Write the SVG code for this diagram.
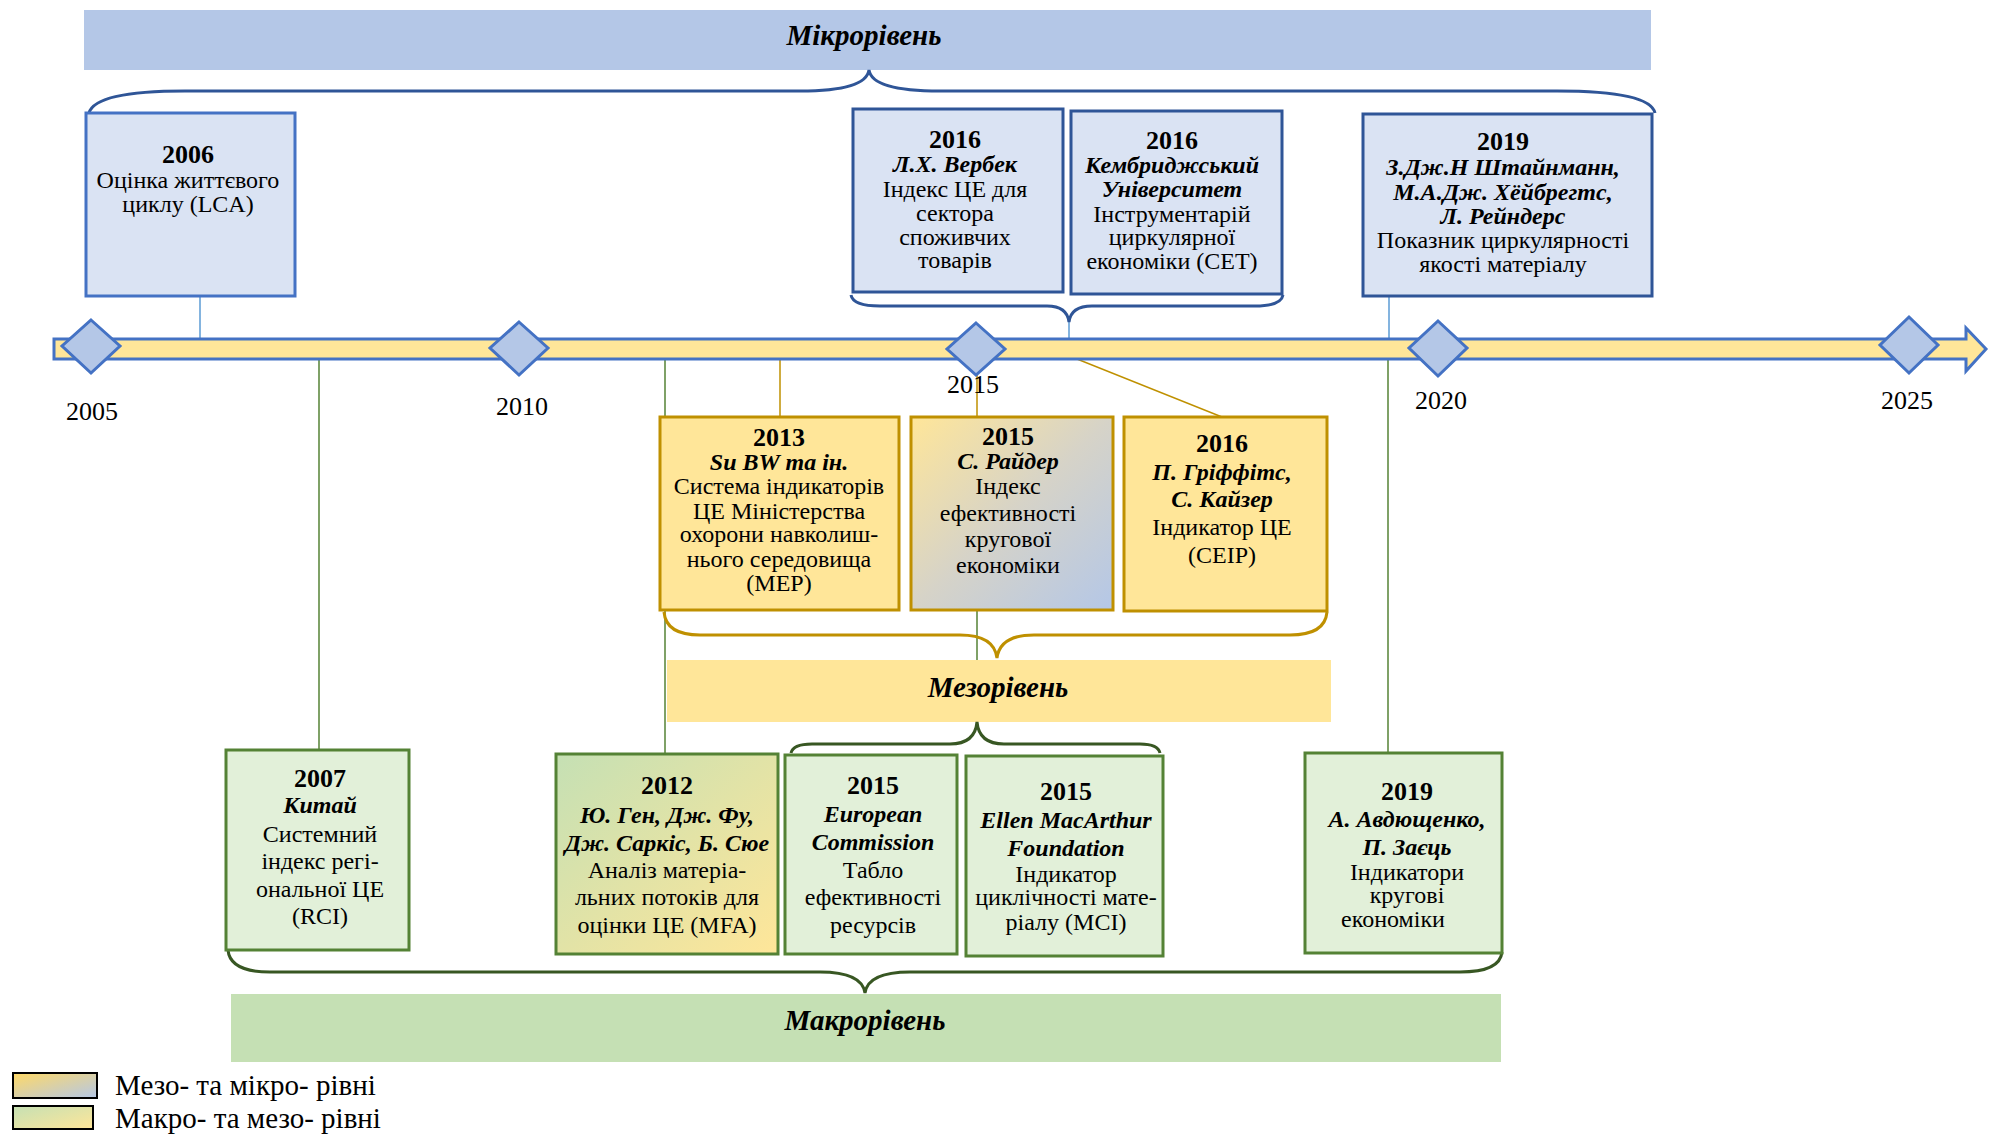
<svg xmlns="http://www.w3.org/2000/svg" width="1993" height="1135" viewBox="0 0 1993 1135">
  <defs>
    <linearGradient id="gMesoMicro" x1="0" y1="0" x2="1" y2="1">
      <stop offset="0" stop-color="#FFE699"/>
      <stop offset="0.5" stop-color="#D6D3C8"/>
      <stop offset="1" stop-color="#B4C7E7"/>
    </linearGradient>
    <linearGradient id="gMacroMeso" x1="0" y1="0" x2="1" y2="1">
      <stop offset="0" stop-color="#C5E0B4"/>
      <stop offset="1" stop-color="#FFE699"/>
    </linearGradient>
    <linearGradient id="gLegA" x1="0" y1="0" x2="1" y2="1">
      <stop offset="0" stop-color="#FFD966"/>
      <stop offset="1" stop-color="#B4C7E7"/>
    </linearGradient>
    <linearGradient id="gLegB" x1="0" y1="0" x2="1" y2="1">
      <stop offset="0" stop-color="#C5E0B4"/>
      <stop offset="1" stop-color="#FFE699"/>
    </linearGradient>
    <style>
      text { font-family: "Liberation Serif", "Times New Roman", serif; fill: #000; }
      .c { text-anchor: middle; font-size: 24px; }
      .yr { font-weight: bold; font-size: 26px; }
      .nm { font-weight: bold; font-style: italic; }
      .lvl { text-anchor: middle; font-weight: bold; font-style: italic; font-size: 29px; }
      .tick { text-anchor: middle; font-size: 26px; }
      .leg { font-size: 29px; }
      .bxB { fill: #DAE3F3; stroke: #2F5597; stroke-width: 3; }
      .bxB2 { fill: #DAE3F3; stroke: #4472C4; stroke-width: 3; }
      .bxY { fill: #FFE699; stroke: #BF9000; stroke-width: 3; }
      .bxG { fill: #E2F0D9; stroke: #548235; stroke-width: 3; }
      .brB { fill: none; stroke: #2F5597; stroke-width: 3; }
      .brY { fill: none; stroke: #BF9000; stroke-width: 3; }
      .brG { fill: none; stroke: #385723; stroke-width: 3; }
      .lnB { stroke: #5B9BD5; stroke-width: 1.5; }
      .lnY { stroke: #BF9000; stroke-width: 1.5; }
      .lnG { stroke: #548235; stroke-width: 1.5; }
      .dia { fill: #B4C7E7; stroke: #4472C4; stroke-width: 3; }
    </style>
  </defs>

  <!-- level bands -->
  <g id="band-micro">
    <rect x="84" y="10" width="1567" height="60" fill="#B4C7E7"/>
    <text class="lvl" x="864" y="45">Мікрорівень</text>
  </g>
  <g id="band-meso">
    <rect x="667" y="660" width="664" height="62" fill="#FFE699"/>
    <text class="lvl" x="998" y="697">Мезорівень</text>
  </g>
  <g id="band-macro">
    <rect x="231" y="994" width="1270" height="68" fill="#C5E0B4"/>
    <text class="lvl" x="865" y="1030">Макрорівень</text>
  </g>

  <!-- connectors and grouping braces -->
  <g id="connectors">
    <line class="lnB" x1="200" y1="296" x2="200" y2="339"/>
    <line class="lnB" x1="1069" y1="322" x2="1069" y2="339"/>
    <line class="lnB" x1="1389" y1="296" x2="1389" y2="339"/>
    <line class="lnG" x1="319" y1="359" x2="319" y2="750"/>
    <line class="lnG" x1="665" y1="359" x2="665" y2="754"/>
    <line class="lnY" x1="780" y1="359" x2="780" y2="417"/>
    <line class="lnY" x1="977" y1="359" x2="977" y2="417"/>
    <line class="lnG" x1="977" y1="610" x2="977" y2="660"/>
    <line class="lnY" x1="1077" y1="359" x2="1222" y2="417"/>
    <line class="lnG" x1="1388" y1="359" x2="1388" y2="753"/>

    <path class="brB" d="M89,113 Q95,91 185,91 L800,91 Q866,91 869,70 Q872,91 940,91 L1557,91 Q1650,91 1655,113"/>
    <path class="brB" d="M851,295 Q853,306 880,306 L1047,306 Q1067,306 1069,322 Q1071,306 1092,306 L1255,306 Q1281,306 1283,295"/>
    <path class="brY" d="M664,612 Q666,635 700,635 L960,635 Q994,635 997,658 Q1000,635 1034,635 L1290,635 Q1325,635 1327,612"/>
    <path class="brG" d="M791,753 Q793,744 812,744 L950,744 Q975,744 977,722 Q979,744 1004,744 L1140,744 Q1158,744 1160,753"/>
    <path class="brG" d="M228,950 Q230,972 270,972 L820,972 Q862,972 865,993 Q868,972 910,972 L1460,972 Q1500,972 1502,952"/>
  </g>

  <!-- timeline axis -->
  <g id="timeline">
    <path d="M54,339 L1966,339 L1966,328 L1986,349 L1966,371 L1966,359 L54,359 Z" fill="#FFE699" stroke="#4472C4" stroke-width="3"/>
    <polygon class="dia" points="91,320 120,346 91,373 62,346"/>
    <polygon class="dia" points="519,322 548,348 519,375 490,348"/>
    <polygon class="dia" points="976,323 1005,349 976,375 947,349"/>
    <polygon class="dia" points="1438,321 1467,348 1438,376 1409,348"/>
    <polygon class="dia" points="1909,317 1938,345 1909,373 1880,345"/>
    <text class="tick" x="92" y="420">2005</text>
    <text class="tick" x="522" y="415">2010</text>
    <text class="tick" x="973" y="393">2015</text>
    <text class="tick" x="1441" y="409">2020</text>
    <text class="tick" x="1907" y="409">2025</text>
  </g>

  <!-- micro level -->
  <g id="n2006">
    <rect class="bxB2" x="86" y="113" width="209" height="183"/>
    <text class="c yr" x="188" y="163">2006</text>
    <text class="c" x="188" y="188">Оцінка життєвого</text>
    <text class="c" x="188" y="212">циклу (LCA)</text>
  </g>
  <g id="n2016-verbek">
    <rect class="bxB" x="853" y="109" width="210" height="183"/>
    <text class="c yr" x="955" y="148">2016</text>
    <text class="c nm" x="955" y="172">Л.Х. Вербек</text>
    <text class="c" x="955" y="197">Індекс ЦЕ для</text>
    <text class="c" x="955" y="221">сектора</text>
    <text class="c" x="955" y="245">споживчих</text>
    <text class="c" x="955" y="268">товарів</text>
  </g>
  <g id="n2016-cambridge">
    <rect class="bxB" x="1071" y="111" width="211" height="183"/>
    <text class="c yr" x="1172" y="149">2016</text>
    <text class="c nm" x="1172" y="173">Кембриджський</text>
    <text class="c nm" x="1172" y="197">Університет</text>
    <text class="c" x="1172" y="222">Інструментарій</text>
    <text class="c" x="1172" y="245">циркулярної</text>
    <text class="c" x="1172" y="269">економіки (CET)</text>
  </g>
  <g id="n2019-steinmann">
    <rect class="bxB" x="1363" y="114" width="289" height="182"/>
    <text class="c yr" x="1503" y="150">2019</text>
    <text class="c nm" x="1503" y="175">З.Дж.Н Штайнманн,</text>
    <text class="c nm" x="1503" y="200">М.А.Дж. Хёйбрегтс,</text>
    <text class="c nm" x="1503" y="224">Л. Рейндерс</text>
    <text class="c" x="1503" y="248">Показник циркулярності</text>
    <text class="c" x="1503" y="272">якості матеріалу</text>
  </g>

  <!-- meso level -->
  <g id="n2013">
    <rect class="bxY" x="660" y="417" width="239" height="193"/>
    <text class="c yr" x="779" y="446">2013</text>
    <text class="c nm" x="779" y="470">Su BW та ін.</text>
    <text class="c" x="779" y="494">Система індикаторів</text>
    <text class="c" x="779" y="519">ЦЕ Міністерства</text>
    <text class="c" x="779" y="542">охорони навколиш-</text>
    <text class="c" x="779" y="567">нього середовища</text>
    <text class="c" x="779" y="591">(MEP)</text>
  </g>
  <g id="n2015-rider">
    <rect x="911" y="417" width="202" height="193" fill="url(#gMesoMicro)" stroke="#BF9000" stroke-width="3"/>
    <text class="c yr" x="1008" y="445">2015</text>
    <text class="c nm" x="1008" y="469">С. Райдер</text>
    <text class="c" x="1008" y="494">Індекс</text>
    <text class="c" x="1008" y="521">ефективності</text>
    <text class="c" x="1008" y="547">кругової</text>
    <text class="c" x="1008" y="573">економіки</text>
  </g>
  <g id="n2016-griffiths">
    <rect class="bxY" x="1124" y="417" width="203" height="194"/>
    <text class="c yr" x="1222" y="452">2016</text>
    <text class="c nm" x="1222" y="480">П. Гріффітс,</text>
    <text class="c nm" x="1222" y="507">С. Кайзер</text>
    <text class="c" x="1222" y="535">Індикатор ЦЕ</text>
    <text class="c" x="1222" y="563">(CEIP)</text>
  </g>

  <!-- macro level -->
  <g id="n2007">
    <rect class="bxG" x="226" y="750" width="183" height="200"/>
    <text class="c yr" x="320" y="787">2007</text>
    <text class="c nm" x="320" y="813">Китай</text>
    <text class="c" x="320" y="842">Системний</text>
    <text class="c" x="320" y="869">індекс регі-</text>
    <text class="c" x="320" y="897">ональної ЦЕ</text>
    <text class="c" x="320" y="924">(RCI)</text>
  </g>
  <g id="n2012">
    <rect x="556" y="754" width="222" height="200" fill="url(#gMacroMeso)" stroke="#548235" stroke-width="3"/>
    <text class="c yr" x="667" y="794">2012</text>
    <text class="c nm" x="667" y="823">Ю. Ген, Дж. Фу,</text>
    <text class="c nm" x="667" y="851">Дж. Саркіс, Б. Сюе</text>
    <text class="c" x="667" y="878">Аналіз матеріа-</text>
    <text class="c" x="667" y="905">льних потоків для</text>
    <text class="c" x="667" y="933">оцінки ЦЕ (MFA)</text>
  </g>
  <g id="n2015-ec">
    <rect class="bxG" x="785" y="755" width="172" height="199"/>
    <text class="c yr" x="873" y="794">2015</text>
    <text class="c nm" x="873" y="822">European</text>
    <text class="c nm" x="873" y="850">Commission</text>
    <text class="c" x="873" y="878">Табло</text>
    <text class="c" x="873" y="905">ефективності</text>
    <text class="c" x="873" y="933">ресурсів</text>
  </g>
  <g id="n2015-emf">
    <rect class="bxG" x="966" y="756" width="197" height="200"/>
    <text class="c yr" x="1066" y="800">2015</text>
    <text class="c nm" x="1066" y="828">Ellen MacArthur</text>
    <text class="c nm" x="1066" y="856">Foundation</text>
    <text class="c" x="1066" y="882">Індикатор</text>
    <text class="c" x="1066" y="905">циклічності мате-</text>
    <text class="c" x="1066" y="930">ріалу (MCI)</text>
  </g>
  <g id="n2019-avdyushchenko">
    <rect class="bxG" x="1305" y="753" width="197" height="200"/>
    <text class="c yr" x="1407" y="800">2019</text>
    <text class="c nm" x="1407" y="827">А. Авдющенко,</text>
    <text class="c nm" x="1407" y="855">П. Заєць</text>
    <text class="c" x="1407" y="880">Індикатори</text>
    <text class="c" x="1407" y="903">кругові</text>
    <text class="c" x="1393" y="927">економіки</text>
  </g>

  <!-- legend -->
  <g id="legend">
    <rect x="13" y="1073" width="84" height="25" fill="url(#gLegA)" stroke="#000" stroke-width="2"/>
    <text class="leg" x="115" y="1095">Мезо- та мікро- рівні</text>
    <rect x="13" y="1106" width="80" height="23" fill="url(#gLegB)" stroke="#000" stroke-width="2"/>
    <text class="leg" x="115" y="1128">Макро- та мезо- рівні</text>
  </g>
</svg>
